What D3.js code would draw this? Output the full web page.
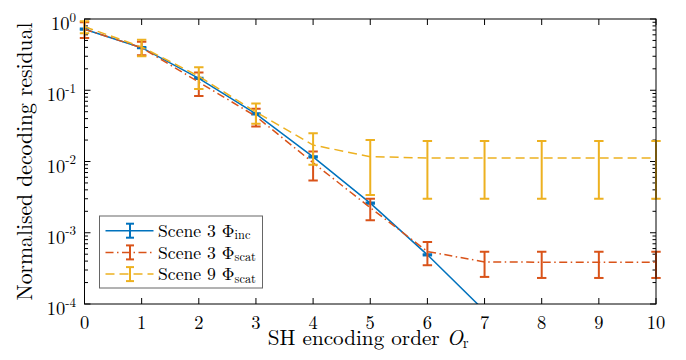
<!DOCTYPE html>
<html>
<head>
<meta charset="utf-8">
<script src="https://cdn.jsdelivr.net/npm/d3@7"></script>
<style>
  body { margin: 0; background: #fff; }
</style>
</head>
<body>
<div id="chart"></div>
<script>
// data
const orders = [0, 1, 2, 3, 4, 5, 6, 7, 8, 9, 10];
const scene3Inc = [0.72, 0.396, 0.147, 0.0465, 0.0116, 0.0026, 0.00049, 0.00008, 0.000015, 0.000003, 0.0000006];
const scene3IncErr = [0.014, 0.008, 0.003, 0.0009, 0.00023, 0.00005, 0.00001, 0.0000016, 0.0000003, 0.00000006, 0.000000012];
const scene3Scat = [0.72, 0.395, 0.13, 0.043, 0.0096, 0.00225, 0.000545, 0.00039, 0.000386, 0.000386, 0.000386];
const scene3ScatErr = [0.18, 0.085, 0.047, 0.012, 0.0042, 0.00075, 0.000195, 0.00015, 0.000154, 0.000154, 0.000154];
const scene9Scat = [0.78, 0.405, 0.157, 0.0495, 0.017, 0.0117, 0.0112, 0.0112, 0.0112, 0.0112, 0.0112];
const scene9ScatErr = [0.15, 0.105, 0.053, 0.0155, 0.008, 0.0083, 0.0082, 0.0082, 0.0082, 0.0082, 0.0082];
const xTicks = [0, 1, 2, 3, 4, 5, 6, 7, 8, 9, 10];
const yTickExp = [0, -1, -2, -3, -4];

const series = [
  { name: 'Scene 3 \u03A6', sub: 'inc', values: scene3Inc, err: scene3IncErr, color: '#0072BD', dash: null },
  { name: 'Scene 3 \u03A6', sub: 'scat', values: scene3Scat, err: scene3ScatErr, color: '#D95319', dash: '8,3.5,1.5,3.5' },
  { name: 'Scene 9 \u03A6', sub: 'scat', values: scene9Scat, err: scene9ScatErr, color: '#EDB120', dash: '9,5' },
];

const FONT = "'Latin Modern Roman', 'Liberation Serif'";
const W = 686, H = 360;
const margin = { top: 19, right: 30, bottom: 56, left: 84.5 };
const width = W - margin.left - margin.right,
  height = H - margin.top - margin.bottom;

const svg = d3.select('#chart').append('svg')
  .attr('width', W).attr('height', H);
const g = svg.append('g').attr('transform', 'translate(' + margin.left + ',' + margin.top + ')');

const x = d3.scaleLinear().domain([0, 10]).range([0, width]);
const y = d3.scaleLog().domain([1e-4, 1]).range([height, 0]);

// scale a text's font size so its length matches the reference
function fitWidth(sel, target) {
  let w = sel.node().getComputedTextLength();
  let fs = parseFloat(sel.style('font-size'));
  if (w > 0) sel.style('font-size', (fs * target / w) + 'px');
}

g.append('clipPath').attr('id', 'plotclip')
  .append('rect').attr('x', -8).attr('y', -8).attr('width', width + 16).attr('height', height + 8);

// y minor ticks (log), inward on both sides
const minorVals = [];
for (let e = -4; e < 0; e++) for (let m = 2; m <= 9; m++) minorVals.push(m * Math.pow(10, e));

const tickG = g.append('g').attr('stroke', '#000').attr('stroke-width', 1);
minorVals.forEach(function (v) {
  tickG.append('line').attr('x1', 0).attr('x2', 3.5).attr('y1', y(v)).attr('y2', y(v));
  tickG.append('line').attr('x1', width).attr('x2', width - 3.5).attr('y1', y(v)).attr('y2', y(v));
});
yTickExp.forEach(function (e) {
  let v = Math.pow(10, e);
  tickG.append('line').attr('x1', 0).attr('x2', 6).attr('y1', y(v)).attr('y2', y(v));
  tickG.append('line').attr('x1', width).attr('x2', width - 6).attr('y1', y(v)).attr('y2', y(v));
});
xTicks.forEach(function (t) {
  tickG.append('line').attr('x1', x(t)).attr('x2', x(t)).attr('y1', height).attr('y2', height - 6);
  tickG.append('line').attr('x1', x(t)).attr('x2', x(t)).attr('y1', 0).attr('y2', 6);
});

// y tick labels 10^k
yTickExp.forEach(function (e) {
  let t = g.append('text').attr('x', -8.5).attr('y', y(Math.pow(10, e)) + 11)
    .attr('text-anchor', 'end').style('font-family', FONT).style('font-size', '18.5px');
  t.append('tspan').text('10');
  t.append('tspan').attr('dy', -8.5).style('font-size', '13px').text(e === 0 ? '0' : '-' + Math.abs(e));
});

// x tick labels
g.selectAll('.xlab').data(xTicks).enter().append('text')
  .attr('x', function (d) { return x(d); })
  .attr('y', height + 25)
  .attr('text-anchor', 'middle')
  .style('font-family', FONT)
  .style('font-size', '18.5px')
  .text(function (d) { return d; });

// series
const plot = g.append('g').attr('clip-path', 'url(#plotclip)');
const capW = 4.7;
series.forEach(function (s) {
  let pts = orders.map(function (o, i) { return [x(o), y(s.values[i])]; });
  let line = plot.append('path')
    .attr('d', d3.line()(pts))
    .attr('fill', 'none')
    .attr('stroke', s.color)
    .attr('stroke-width', 1.5);
  if (s.dash) line.attr('stroke-dasharray', s.dash);

  orders.forEach(function (o, i) {
    let lo = s.values[i] - s.err[i], hi = s.values[i] + s.err[i];
    let yl = y(Math.max(lo, 1e-9)), yh = y(hi), xc = x(o);
    let eb = plot.append('g').attr('stroke', s.color).attr('stroke-width', 2).attr('fill', 'none');
    eb.append('line').attr('x1', xc).attr('x2', xc).attr('y1', yl).attr('y2', yh);
    eb.append('line').attr('x1', xc - capW).attr('x2', xc + capW).attr('y1', yl).attr('y2', yl);
    eb.append('line').attr('x1', xc - capW).attr('x2', xc + capW).attr('y1', yh).attr('y2', yh);
  });
});

// axes box
g.append('rect').attr('x', 0).attr('y', 0).attr('width', width).attr('height', height)
  .attr('fill', 'none').attr('stroke', '#000').attr('stroke-width', 1);

// axis labels
let xl = g.append('text').attr('x', width / 2 - 2).attr('y', height + 41)
  .attr('text-anchor', 'middle').style('font-family', FONT).style('font-size', '20px');
xl.append('tspan').text('SH encoding order ');
xl.append('tspan').style('font-style', 'italic').text('O');
xl.append('tspan').attr('dy', '0.2em').style('font-size', '0.7em').text('r');
fitWidth(xl, 201);

let yl = svg.append('text')
  .attr('transform', 'translate(32,' + (margin.top + height / 2) + ') rotate(-90)')
  .attr('text-anchor', 'middle')
  .style('font-family', FONT)
  .style('font-size', '22px')
  .text('Normalised decoding residual');
fitWidth(yl, 278);

// legend
const leg = svg.append('g').attr('transform', 'translate(99.5,216)');
leg.append('rect').attr('width', 163).attr('height', 72)
  .attr('fill', '#fff').attr('stroke', '#666').attr('stroke-width', 1);
let legTexts = [];
series.forEach(function (s, i) {
  let cy = 14.7 + i * 21.7;
  let ln = leg.append('line').attr('x1', 6).attr('x2', 54).attr('y1', cy).attr('y2', cy)
    .attr('stroke', s.color).attr('stroke-width', 1.5);
  if (s.dash) ln.attr('stroke-dasharray', s.dash);
  let eb = leg.append('g').attr('stroke', s.color).attr('stroke-width', 2);
  eb.append('line').attr('x1', 30.5).attr('x2', 30.5).attr('y1', cy - 7).attr('y2', cy + 7);
  eb.append('line').attr('x1', 26.5).attr('x2', 34.5).attr('y1', cy - 7).attr('y2', cy - 7);
  eb.append('line').attr('x1', 26.5).attr('x2', 34.5).attr('y1', cy + 7).attr('y2', cy + 7);
  let t = leg.append('text').attr('x', 58.5).attr('y', cy + 6.3)
    .style('font-family', FONT).style('font-size', '18px');
  t.append('tspan').text(s.name);
  t.append('tspan').attr('dy', '0.18em').style('font-size', '0.7em').text(s.sub);
  legTexts.push(t);
});
// size legend text from the widest entry
let wmax = legTexts[1].node().getComputedTextLength();
let legFs = 18 * 98 / wmax;
legTexts.forEach(function (t) { t.style('font-size', legFs + 'px'); });
</script>
</body>
</html>
